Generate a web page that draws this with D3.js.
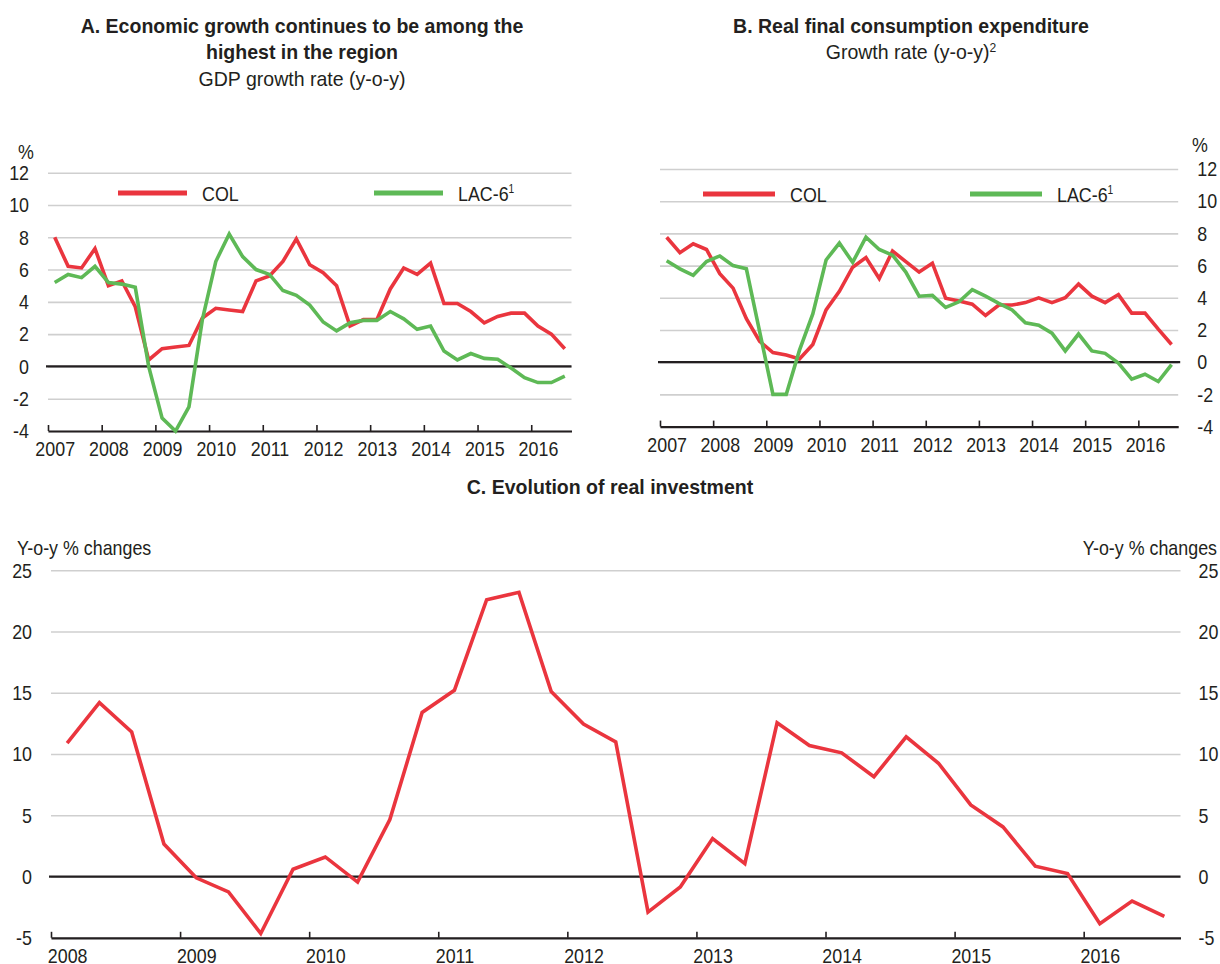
<!DOCTYPE html>
<html>
<head>
<meta charset="utf-8">
<script src="https://cdn.jsdelivr.net/npm/d3@7"></script>
<style>
  html, body { margin: 0; padding: 0; background: #fff; }
  svg text { font-family: "Liberation Sans", Arial, "Helvetica", sans-serif; fill: #231f20; }
</style>
</head>
<body>
<svg id="chart" width="1220" height="964"></svg>
<script>
// ---------------- DATA ----------------
const periodsAB = ["2007Q1","2007Q2","2007Q3","2007Q4","2008Q1","2008Q2","2008Q3","2008Q4",
  "2009Q1","2009Q2","2009Q3","2009Q4","2010Q1","2010Q2","2010Q3","2010Q4",
  "2011Q1","2011Q2","2011Q3","2011Q4","2012Q1","2012Q2","2012Q3","2012Q4",
  "2013Q1","2013Q2","2013Q3","2013Q4","2014Q1","2014Q2","2014Q3","2014Q4",
  "2015Q1","2015Q2","2015Q3","2015Q4","2016Q1","2016Q2","2016Q3"];
const periodsC = ["2008Q1","2008Q2","2008Q3","2008Q4",
  "2009Q1","2009Q2","2009Q3","2009Q4","2010Q1","2010Q2","2010Q3","2010Q4",
  "2011Q1","2011Q2","2011Q3","2011Q4","2012Q1","2012Q2","2012Q3","2012Q4",
  "2013Q1","2013Q2","2013Q3","2013Q4","2014Q1","2014Q2","2014Q3","2014Q4",
  "2015Q1","2015Q2","2015Q3","2015Q4","2016Q1","2016Q2","2016Q3"];

// Panel A: GDP growth rate (y-o-y)
const gdpCOL = [8.0,6.2,6.1,7.3,5.0,5.3,3.7,0.4,1.1,1.2,1.3,3.0,3.6,3.5,3.4,5.3,5.6,6.5,7.9,6.3,
  5.8,5.0,2.5,2.9,2.9,4.8,6.1,5.7,6.4,3.9,3.9,3.4,2.7,3.1,3.3,3.3,2.5,2.0,1.1];
const gdpLAC6 = [5.2,5.7,5.5,6.2,5.2,5.1,4.9,0.0,-3.2,-4.0,-2.5,2.9,6.5,8.2,6.8,6.0,5.7,4.7,4.4,3.8,
  2.75,2.2,2.7,2.85,2.85,3.4,2.95,2.3,2.5,0.95,0.4,0.8,0.5,0.45,-0.1,-0.7,-1.0,-1.0,-0.6];

// Panel B: Real final consumption expenditure growth (y-o-y)
const consCOL = [7.76,6.8,7.35,7.0,5.5,4.6,2.7,1.3,0.6,0.45,0.2,1.1,3.25,4.4,5.9,6.5,5.2,6.9,6.25,5.6,
  6.15,3.97,3.8,3.6,2.9,3.55,3.55,3.7,4.0,3.7,4.0,4.85,4.1,3.7,4.2,3.05,3.05,2.05,1.1];
const consLAC6 = [6.3,5.8,5.4,6.25,6.6,6.0,5.8,1.9,-2.0,-2.0,0.75,3.0,6.35,7.4,6.2,7.76,7.0,6.65,5.6,4.1,
  4.15,3.4,3.75,4.5,4.1,3.65,3.25,2.45,2.3,1.8,0.7,1.75,0.7,0.55,-0.05,-1.05,-0.75,-1.2,-0.15];

// Panel C: Real investment, y-o-y % changes
const investCOL = [10.9,14.2,11.8,2.65,-0.1,-1.25,-4.65,0.6,1.6,-0.45,4.65,13.4,15.2,22.6,23.2,15.1,
  12.45,11.0,-2.9,-0.85,3.1,1.05,12.55,10.7,10.1,8.15,11.4,9.25,5.85,4.05,0.85,0.25,-3.85,-2.0,-3.25];

const yearsAB = [2007,2008,2009,2010,2011,2012,2013,2014,2015,2016];
const yearsC = [2008,2009,2010,2011,2012,2013,2014,2015,2016];
const ticksAB = [-4,-2,0,2,4,6,8,10,12];
const ticksC = [-5,0,5,10,15,20,25];

const seriesNames = ["COL", "LAC-6"];
const RED = "#ea353e";
const GREEN = "#5eb956";
const INK = "#231f20";
const FS = 21;                // base font size
const SQUEEZE = 0.85;         // horizontal condensation for labels
const SQUEEZE_TITLE = 0.93;   // horizontal condensation for titles

// ---------------- HELPERS ----------------
const svg = d3.select("#chart");
svg.append("rect").attr("width", 1220).attr("height", 964).attr("fill", "#fff");

function pos(p) {            // "2009Q3" -> mid-quarter in decimal years
  const y = +p.slice(0, 4), q = +p.slice(5);
  return y + (q - 1) / 4 + 0.125;
}

function styleText(sel) {
  sel.attr("font-size", FS).attr("fill", INK);
}

function panel(cfg) {
  const g = svg.append("g");
  const x = d3.scaleLinear().domain(cfg.xDomain).range(cfg.xRange);
  const y = d3.scaleLinear().domain(cfg.yDomain).range(cfg.yRange);
  const left = cfg.xRange[0], right = cfg.xRange[1];
  const fmt = d => String(d);

  // gridlines + y labels
  const yAxis = (cfg.side === "left" ? d3.axisLeft(y) : d3.axisRight(y))
    .tickValues(cfg.yTicks).tickSizeInner(-(right - left)).tickSizeOuter(0)
    .tickPadding(cfg.tickPad).tickFormat(fmt);
  const ga = g.append("g")
    .attr("transform", `translate(${cfg.side === "left" ? left : right},0)`)
    .call(yAxis);
  ga.attr("font-family", null).attr("font-size", null);
  ga.select(".domain").remove();
  ga.selectAll(".tick line").attr("stroke", "#cfcfcf").attr("stroke-width", 1.6);
  styleText(ga.selectAll(".tick text"));

  if (cfg.side2) {
    const ya2 = d3.axisRight(y).tickValues(cfg.yTicks).tickSize(0).tickPadding(cfg.tickPad2).tickFormat(fmt);
    const gb = g.append("g").attr("transform", `translate(${right},0)`).call(ya2);
    gb.attr("font-family", null).attr("font-size", null);
    gb.select(".domain").remove();
    styleText(gb.selectAll(".tick text"));
  }

  // zero line
  g.append("line")
    .attr("x1", left - 2).attr("x2", right + (cfg.zeroExt || 0))
    .attr("y1", y(0)).attr("y2", y(0))
    .attr("stroke", INK).attr("stroke-width", 2.2);

  // x axis: ticks at year starts (pointing up)
  const xAxis = d3.axisBottom(x).tickValues(cfg.years).tickSizeInner(-6).tickSizeOuter(0).tickFormat("");
  const gx = g.append("g").attr("transform", `translate(0,${cfg.yRange[0]})`).call(xAxis);
  gx.select(".domain").attr("stroke", INK).attr("stroke-width", 2.2);
  gx.selectAll(".tick line").attr("stroke", INK).attr("stroke-width", 1.6);

  // x labels centered under first quarter of each year
  const xLab = d3.axisBottom(x).tickValues(cfg.years.map(v => v + 0.125)).tickSize(0)
    .tickPadding(cfg.xLabPad).tickFormat(d => String(Math.floor(d)));
  const gl = g.append("g").attr("transform", `translate(0,${cfg.yRange[0]})`).call(xLab);
  gl.attr("font-family", null).attr("font-size", null);
  gl.select(".domain").remove();
  styleText(gl.selectAll(".tick text"));

  // lines
  const line = d3.line().x(d => x(pos(d.p))).y(d => y(d.v)).curve(d3.curveLinear);
  cfg.series.forEach(s => {
    const data = cfg.periods.map((p, i) => ({ p, v: s.values[i] }));
    g.append("path").datum(data)
      .attr("d", line).attr("fill", "none")
      .attr("stroke", s.color).attr("stroke-width", 3.6)
      .attr("stroke-linejoin", "miter").attr("stroke-miterlimit", 4);
  });
  return { x, y, g };
}

function title(lines, cx, ys, weights) {
  lines.forEach((t, i) => {
    const el = svg.append("text").attr("x", cx).attr("y", ys[i])
      .attr("text-anchor", "middle").attr("font-size", FS)
      .attr("font-weight", weights[i]).attr("data-squeeze", SQUEEZE_TITLE);
    if (Array.isArray(t)) {
      el.append("tspan").text(t[0]);
      el.append("tspan").attr("dy", -7).attr("font-size", 13).text(t[1]);
    } else el.text(t);
  });
}

function legendItem(x1, x2, yy, color, label, sup) {
  svg.append("line").attr("x1", x1).attr("x2", x2).attr("y1", yy).attr("y2", yy)
    .attr("stroke", color).attr("stroke-width", 5);
  const t = svg.append("text").attr("x", x2 + 15).attr("y", yy + 7.5).attr("font-size", FS);
  t.append("tspan").text(label);
  if (sup) t.append("tspan").attr("dy", -8).attr("font-size", 12).text(sup);
}

function plainText(x, y, str, anchor) {
  svg.append("text").attr("x", x).attr("y", y).attr("text-anchor", anchor || "start")
    .attr("font-size", FS).text(str);
}

// ---------------- PANEL A ----------------
panel({
  xDomain: [2007, 2016.75], xRange: [48, 571.5],
  yDomain: [-4, 12], yRange: [431, 172.7], yTicks: ticksAB,
  side: "left", tickPad: 19, years: yearsAB, xLabPad: 10,
  periods: periodsAB,
  series: [{ values: gdpCOL, color: RED }, { values: gdpLAC6, color: GREEN }]
});
title(["A. Economic growth continues to be among the", "highest in the region", "GDP growth rate (y-o-y)"],
  302, [33, 59, 86], ["bold", "bold", "normal"]);
plainText(26, 159, "%", "middle");
legendItem(118, 187, 193, RED, seriesNames[0]);
legendItem(374, 443, 193, GREEN, seriesNames[1], "1");

// ---------------- PANEL B ----------------
panel({
  xDomain: [2007, 2016.75], xRange: [660, 1178.2],
  yDomain: [-4, 12], yRange: [426.6, 169], yTicks: ticksAB,
  side: "right", tickPad: 19, years: yearsAB, xLabPad: 10, zeroExt: 2,
  periods: periodsAB,
  series: [{ values: consCOL, color: RED }, { values: consLAC6, color: GREEN }]
});
title(["B. Real final consumption expenditure", ["Growth rate (y-o-y)", "2"]],
  911, [33, 59], ["bold", "normal"]);
plainText(1200, 152, "%", "middle");
legendItem(703, 775, 194, RED, seriesNames[0]);
legendItem(970, 1042, 194, GREEN, seriesNames[1], "1");

// ---------------- PANEL C ----------------
panel({
  xDomain: [2008, 2016.75], xRange: [51, 1180.5],
  yDomain: [-5, 25], yRange: [937.8, 570.3], yTicks: ticksC,
  side: "left", tickPad: 19, side2: true, tickPad2: 18, years: yearsC, xLabPad: 10,
  periods: periodsC,
  series: [{ values: investCOL, color: RED }]
});
title(["C. Evolution of real investment"], 610, [494], ["bold"]);
plainText(17, 555, "Y-o-y % changes");
plainText(1217, 555, "Y-o-y % changes", "end");

// condense all texts horizontally to mimic the reference's condensed typeface
svg.selectAll("text").each(function () {
  const f = +(this.getAttribute("data-squeeze") || SQUEEZE);
  const L = this.getComputedTextLength();
  this.setAttribute("textLength", (L * f).toFixed(2));
  this.setAttribute("lengthAdjust", "spacingAndGlyphs");
});
</script>
</body>
</html>
